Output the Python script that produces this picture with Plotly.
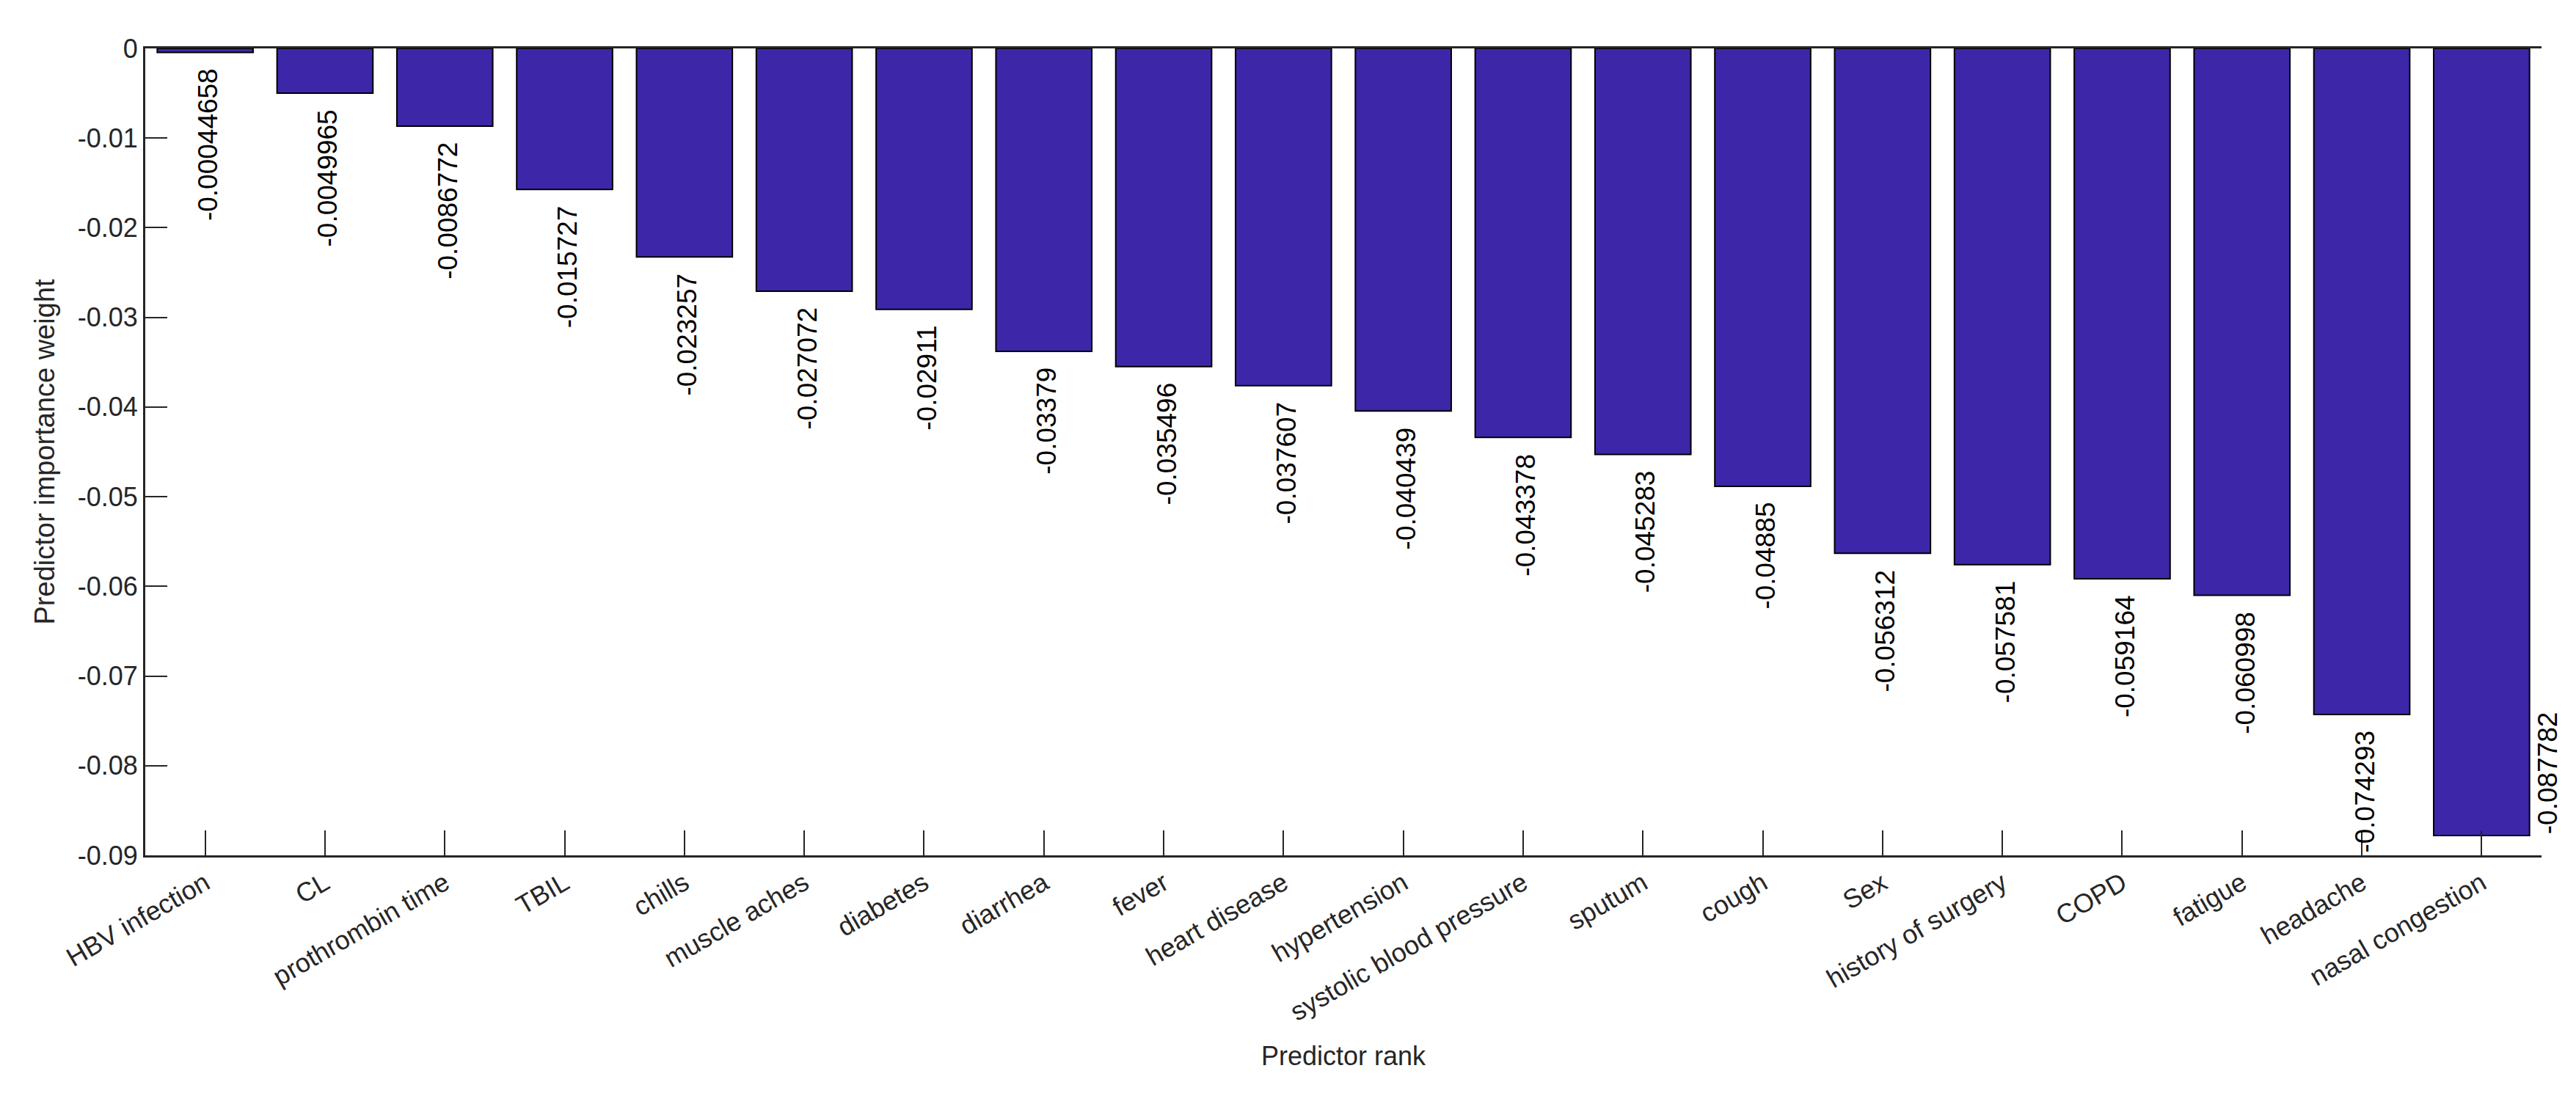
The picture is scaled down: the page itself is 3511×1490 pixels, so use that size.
import plotly.graph_objects as go

predictors = ["HBV infection", "CL", "prothrombin time", "TBIL", "chills", "muscle aches",
              "diabetes", "diarrhea", "fever", "heart disease", "hypertension",
              "systolic blood pressure", "sputum", "cough", "Sex", "history of surgery",
              "COPD", "fatigue", "headache", "nasal congestion"]
weights = [-0.00044658, -0.0049965, -0.0086772, -0.015727, -0.023257, -0.027072,
           -0.02911, -0.03379, -0.035496, -0.037607, -0.040439, -0.043378,
           -0.045283, -0.04885, -0.056312, -0.057581, -0.059164, -0.060998,
           -0.074293, -0.087782]
y_tickvals = [0, -0.01, -0.02, -0.03, -0.04, -0.05, -0.06, -0.07, -0.08, -0.09]
y_ticktext = ["0", "-0.01", "-0.02", "-0.03", "-0.04", "-0.05", "-0.06", "-0.07", "-0.08", "-0.09"]

FONT = "Liberation Sans, Arial, Helvetica, sans-serif"
AX = "#262626"
BAR = "#3E26A8"

fig = go.Figure()
fig.add_trace(go.Bar(
    x=list(range(len(predictors))), y=weights, width=0.8,
    marker=dict(color=BAR, line=dict(color="black", width=2)),
    showlegend=False,
))

for i, v in enumerate(weights):
    label = f"{v:g}"
    if v < -0.08:
        fig.add_annotation(x=i, y=v, xref="x", yref="y", text=label, showarrow=False,
                           textangle=-90, xanchor="left", yanchor="bottom", xshift=68,
                           font=dict(family=FONT, size=37, color="black"))
    else:
        fig.add_annotation(x=i, y=v, xref="x", yref="y", text=label, showarrow=False,
                           textangle=-90, xanchor="center", yanchor="top", yshift=-20, xshift=4,
                           font=dict(family=FONT, size=37, color="black"))

fig.update_layout(
    width=3511, height=1490,
    margin=dict(l=190, r=55, t=58, b=332),
    paper_bgcolor="white", plot_bgcolor="white",
    font=dict(family=FONT, color=AX, size=36),
    bargap=0.2,
)
fig.update_xaxes(
    range=[-0.5, len(predictors) - 0.5],
    tickmode="array", tickvals=list(range(len(predictors))), ticktext=predictors,
    tickangle=-30, ticks="inside", ticklen=34, tickwidth=2, tickcolor=AX,
    showline=True, linecolor=AX, linewidth=3, mirror=True,
    showgrid=False, zeroline=False,
    tickfont=dict(family=FONT, size=36, color=AX),
    title=dict(text="Predictor rank", font=dict(family=FONT, size=36, color=AX), standoff=28),
)
fig.update_yaxes(
    range=[-0.09, 0],
    tickmode="array", tickvals=y_tickvals, ticktext=y_ticktext,
    ticks="inside", ticklen=30, tickwidth=2, tickcolor=AX,
    showline=True, linecolor=AX, linewidth=3,
    showgrid=False, zeroline=False,
    tickfont=dict(family=FONT, size=36, color=AX),
    title=dict(text="Predictor importance weight", font=dict(family=FONT, size=38, color=AX), standoff=20),
)

fig.write_html("out.html")
